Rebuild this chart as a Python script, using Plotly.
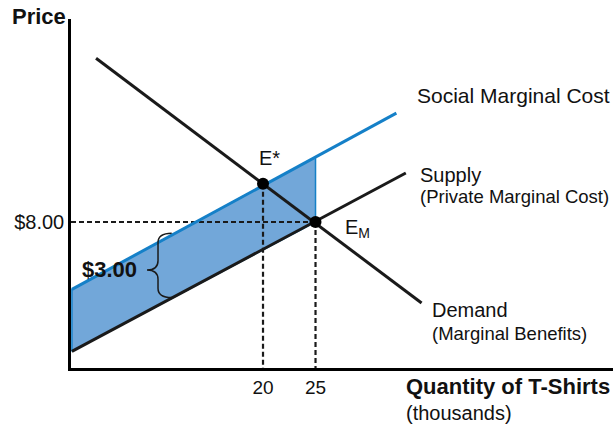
import plotly.graph_objects as go

# quantity of T-shirts (thousands) / price ($)
demand_q = [4.1, 35.1]
demand_p = [15.92, 4.08]
supply_q = [1.8, 33.6]
supply_p = [1.74, 10.37]
smc_q = [1.8, 32.7]
smc_p = [4.74, 13.27]

# external cost wedge between social and private marginal cost
wedge_q = [1.8, 1.8, 25, 25, 1.8]
wedge_p = [1.74, 4.74, 11.14, 8.0, 1.74]

eq_q = [20, 25]
eq_p = [9.85, 8.0]
eq_names = ['E*', 'E<sub>M</sub>']

price_ticks = [8]
price_labels = ['$8.00']
qty_ticks = [20, 25]
qty_labels = ['20', '25']

tax_label = '$3.00'
brace_q = [8.95, 10.0, 11.3]      # tip, stem, ends
brace_p = [7.45, 5.68, 4.35]      # top, tip, bottom

Q_RANGE = [1.714, 53.33]
P_RANGE = [0.937, 17.82]

FONT = 'Liberation Sans, Arial, sans-serif'
BLUE = '#1580c8'
FILL = '#72a7d9'
INK = '#1a1a1a'

fig = go.Figure()

fig.add_trace(go.Scatter(
    x=wedge_q, y=wedge_p, mode='lines', fill='toself',
    fillcolor=FILL, line={'color': BLUE, 'width': 1.5}, hoverinfo='skip'
))

# guide lines from the two equilibria to the axes
dash = {'color': '#1a1a1a', 'width': 2.2, 'dash': '5px,3px'}
fig.add_trace(go.Scatter(x=[Q_RANGE[0], eq_q[1]], y=[eq_p[1], eq_p[1]],
                         mode='lines', line=dash))
for q, p in zip(eq_q, eq_p):
    fig.add_trace(go.Scatter(x=[q, q], y=[p, P_RANGE[0]], mode='lines', line=dash))

fig.add_trace(go.Scatter(x=smc_q, y=smc_p, mode='lines',
                         line={'color': BLUE, 'width': 3}))
fig.add_trace(go.Scatter(x=supply_q, y=supply_p, mode='lines',
                         line={'color': INK, 'width': 3}))
fig.add_trace(go.Scatter(x=demand_q, y=demand_p, mode='lines',
                         line={'color': INK, 'width': 3}))
fig.add_trace(go.Scatter(x=eq_q, y=eq_p, mode='markers',
                         marker={'color': 'black', 'size': 12}))

# curly brace marking the $3.00 gap
tip, stem, end = brace_q
top, mid, bot = brace_p
r = 0.45
brace = (f'M {end},{top} Q {stem},{top} {stem},{top - r} '
         f'L {stem},{mid + r} Q {stem},{mid} {tip},{mid} '
         f'Q {stem},{mid} {stem},{mid - r} '
         f'L {stem},{bot + r} Q {stem},{bot} {end},{bot}')
fig.add_shape(type='path', path=brace, xref='x', yref='y',
              line={'color': INK, 'width': 1.5})


def label(text, x, y, size=20, bold=False, anchor='left', ref='data'):
    if bold:
        text = f'<b>{text}</b>'
    refs = {'xref': 'paper', 'yref': 'paper'} if ref == 'paper' else {}
    fig.add_annotation(x=x, y=y, text=text, showarrow=False, xanchor=anchor,
                       yanchor='middle', **refs,
                       font={'family': FONT, 'size': size, 'color': '#111'})


label('Price', -0.1125, 1.007, 22, bold=True, ref='paper')
label(tax_label, 8.22, 5.68, 22, bold=True, anchor='right')
label(eq_names[0], 19.45, 11.1, 20)
label(eq_names[1], 27.65, 7.7, 20)
label('Social Marginal Cost', 34.45, 14.1, 21)
label('Supply', 34.75, 10.27, 20)
label('(Private Marginal Cost)', 34.75, 9.22, 18.5)
label('Demand', 35.9, 3.74, 20)
label('(Marginal Benefits)', 35.9, 2.63, 18.5)
label('Quantity of T-Shirts', 0.614, -0.054, 22, bold=True, ref='paper')
label('(thousands)', 0.614, -0.129, 20, ref='paper')

fig.update_layout(
    width=613, height=433,
    margin={'l': 71, 'r': 0, 't': 19, 'b': 65},
    paper_bgcolor='white', plot_bgcolor='white',
    showlegend=False,
    font={'family': FONT, 'color': '#111'},
    xaxis={'range': Q_RANGE, 'showgrid': False, 'zeroline': False,
           'showline': True, 'linecolor': 'black', 'linewidth': 3,
           'tickvals': qty_ticks, 'ticktext': qty_labels,
           'tickfont': {'size': 19}, 'ticks': ''},
    yaxis={'range': P_RANGE, 'showgrid': False, 'zeroline': False,
           'showline': True, 'linecolor': 'black', 'linewidth': 2.5,
           'tickvals': price_ticks, 'ticktext': price_labels,
           'tickfont': {'size': 20}, 'ticks': ''},
)

# drop the browser's default 8px body margin so the figure fills the window
fig.write_html('out.html', config={'displayModeBar': False},
               post_script="document.body.style.margin = '0';")
